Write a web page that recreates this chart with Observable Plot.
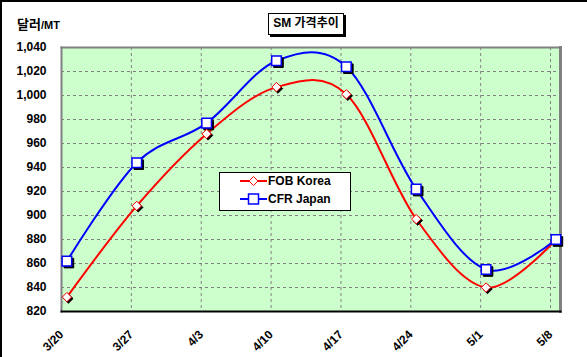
<!DOCTYPE html>
<html>
<head>
<meta charset="utf-8">
<script src="https://cdn.jsdelivr.net/npm/d3@7"></script>
<script src="https://cdn.jsdelivr.net/npm/@observablehq/plot@0.6"></script>
<style>
  html, body { margin: 0; padding: 0; background: #fff; }
  #wrap { position: relative; width: 587px; height: 357px; overflow: hidden;
          font-family: "Liberation Sans", Arial, "Noto Sans CJK KR", sans-serif; }
  #wrap svg.plot { position: absolute; left: 0; top: 0; }
  .frameline { position: absolute; background: #000; }
  #unit { position: absolute; left: 17px; top: 14px; font-weight: bold; color: #000; white-space: nowrap; }
  #unit .ko { font-family: "Noto Sans CJK KR", sans-serif; font-size: 13px; }
  #unit .mt { font-size: 11px; }
  #title { position: absolute; left: 268px; top: 13px; width: 76px; height: 22px; box-sizing: border-box;
           border: 1.5px solid #000; background: #fff; box-shadow: 2px 2px 0 #000;
           font-weight: bold; font-size: 12px; line-height: 19px; text-align: center; white-space: nowrap;
           font-family: "Liberation Sans", Arial, "Noto Sans CJK KR", sans-serif; }
  #legend { position: absolute; left: 219px; top: 172px; width: 132px; height: 39px; box-sizing: border-box;
            border: 1.5px solid #000; background: #fff; font-weight: bold; font-size: 12px; }
  #legend .row { position: absolute; left: 20px; height: 16px; display: flex; align-items: center; white-space: nowrap; }
  #legend svg { display: block; margin-right: 1px; }
</style>
</head>
<body>
<div id="wrap"></div>
<script>
// ---- data ----
const weeks = ["2008-03-20","2008-03-27","2008-04-03","2008-04-10","2008-04-17","2008-04-24","2008-05-01","2008-05-08"];
const fobKorea = [832, 908, 968, 1007, 1001, 897, 840, 880];
const cfrJapan = [862, 944, 977, 1029, 1024, 922, 855, 880];
const yTicks = [820, 840, 860, 880, 900, 920, 940, 960, 980, 1000, 1020, 1040];
const seriesNames = ["FOB Korea", "CFR Japan"];
const seriesColors = ["#FF0000", "#0000FF"];

const weekDates = weeks.map(s => new Date(s + "T00:00:00Z"));
const pointX = d => d3.utcHour.offset(d.date, 13);
const fobData = weekDates.map((date, i) => ({date, value: fobKorea[i]}));
const cfrData = weekDates.map((date, i) => ({date, value: cfrJapan[i]}));

const x0 = weekDates[0];
const x1 = d3.utcDay.offset(weekDates[weekDates.length - 1], 1);

const fmtDate = d3.utcFormat("%-m/%-d");

const chart = Plot.plot({
  width: 587,
  height: 357,
  marginLeft: 61,
  marginRight: 27,
  marginTop: 47,
  marginBottom: 46,
  style: {fontFamily: "'Liberation Sans', Arial, sans-serif", background: "transparent", overflow: "visible"},
  x: {type: "utc", domain: [x0, x1]},
  y: {domain: [820, 1040]},
  marks: [
    Plot.frame({fill: "#CCFFCC", stroke: null}),
    Plot.gridX(weekDates, {stroke: "#808080", strokeOpacity: 1, strokeDasharray: "3,3", strokeWidth: 1}),
    Plot.gridY(yTicks, {stroke: "#808080", strokeOpacity: 1, strokeDasharray: "3,3", strokeWidth: 1}),
    Plot.frame({anchor: "top", stroke: "#808080", strokeWidth: 2}),
    Plot.frame({anchor: "right", stroke: "#808080", strokeWidth: 3}),
    Plot.frame({anchor: "left", stroke: "#808080", strokeWidth: 2}),
    Plot.frame({anchor: "bottom", stroke: "#000", strokeWidth: 2}),
    Plot.axisY({ticks: yTicks, tickFormat: d3.format(","), tickSize: 0, tickPadding: 15,
                fontSize: 12, fontWeight: "bold", label: null, fill: "#000"}),
    Plot.axisX({ticks: weekDates, tickFormat: fmtDate, tickSize: 0, tickPadding: 21, tickRotate: -45,
                fontSize: 12, fontWeight: "bold", label: null, fill: "#000"}),
    Plot.line(fobData, {x: pointX, y: "value", stroke: seriesColors[0], strokeWidth: 2, curve: "cardinal"}),
    Plot.line(cfrData, {x: pointX, y: "value", stroke: seriesColors[1], strokeWidth: 2, curve: "cardinal"}),
    // marker shadows
    Plot.dot(fobData, {x: pointX, y: "value", symbol: "diamond2", r: 4.2, fill: "#000", stroke: "#000", strokeWidth: 1, dx: 1.5, dy: 1.5}),
    Plot.dot(cfrData, {x: pointX, y: "value", symbol: "square", r: 5.4, fill: "#000", stroke: "#000", strokeWidth: 1, dx: 2, dy: 2}),
    // markers
    Plot.dot(fobData, {x: pointX, y: "value", symbol: "diamond2", r: 4.2, fill: "#fff", stroke: seriesColors[0], strokeWidth: 1}),
    Plot.dot(cfrData, {x: pointX, y: "value", symbol: "square", r: 5.4, fill: "#fff", stroke: seriesColors[1], strokeWidth: 1.5})
  ]
});
chart.classList.add("plot");
const wrap = document.getElementById("wrap");
wrap.appendChild(chart);

// outer chart-area border (left + top visible)
const fl = document.createElement("div"); fl.className = "frameline";
fl.style.cssText = "left:0;top:0;width:1.5px;height:357px;"; wrap.appendChild(fl);
const ft = document.createElement("div"); ft.className = "frameline";
ft.style.cssText = "left:0;top:0;width:587px;height:1.5px;"; wrap.appendChild(ft);

// unit label
const unit = document.createElement("div"); unit.id = "unit";
unit.innerHTML = '<span class="ko">달러</span><span class="mt">/MT</span>';
wrap.appendChild(unit);

// title
const title = document.createElement("div"); title.id = "title";
title.textContent = "SM 가격추이";
wrap.appendChild(title);

// legend
const legend = document.createElement("div"); legend.id = "legend";
const symbolsSvg = [
  (c) => `<svg width="27" height="14"><line x1="0" y1="7" x2="27" y2="7" stroke="${c}" stroke-width="2"/><path d="M13.5,2.5 L18,7 L13.5,11.5 L9,7 Z" fill="#fff" stroke="${c}" stroke-width="1"/></svg>`,
  (c) => `<svg width="27" height="14"><line x1="0" y1="7" x2="27" y2="7" stroke="${c}" stroke-width="2"/><rect x="8.5" y="2" width="10" height="10" fill="#fff" stroke="${c}" stroke-width="1.5"/></svg>`
];
seriesNames.forEach((name, i) => {
  const row = document.createElement("div"); row.className = "row";
  row.style.top = (i === 0 ? 0 : 18) + "px";
  row.innerHTML = symbolsSvg[i](seriesColors[i]) + `<span>${name}</span>`;
  legend.appendChild(row);
});
wrap.appendChild(legend);
</script>
</body>
</html>
